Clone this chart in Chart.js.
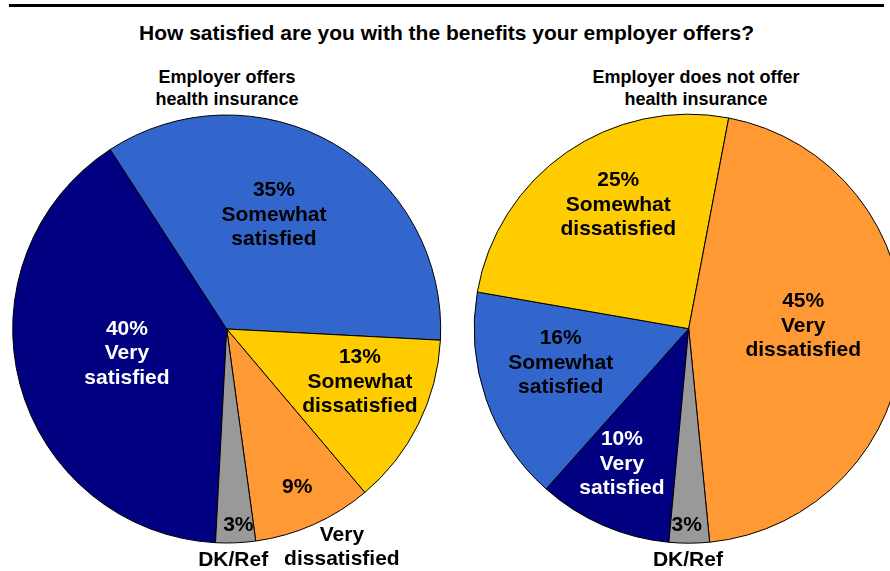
<!DOCTYPE html>
<html>
<head>
<meta charset="utf-8">
<script src="https://cdn.jsdelivr.net/npm/chart.js@4/dist/chart.umd.min.js"></script>
<style>
  body { margin: 0; width: 890px; height: 571px; overflow: hidden; background: #fff; position: relative; font-family: "Liberation Sans", Arial, sans-serif; }
  .rule { position: absolute; left: 9px; top: 4px; width: 875px; height: 3px; background: #000; }
  .title { position: absolute; top: 21px; left: 0; width: 893px; text-align: center; font-weight: bold; font-size: 21px; line-height: 24px; }
  .sub { position: absolute; top: 66px; width: 300px; text-align: center; font-weight: bold; font-size: 18px; line-height: 22px; }
  canvas { position: absolute; top: 0; }
</style>
</head>
<body>
<div class="rule"></div>
<div class="title">How satisfied are you with the benefits your employer offers?</div>
<div class="sub" style="left:77px">Employer offers<br>health insurance</div>
<div class="sub" style="left:546px">Employer does not offer<br>health insurance</div>
<canvas id="left" width="460" height="571" style="left:0"></canvas>
<canvas id="right" width="460" height="571" style="left:460px"></canvas>
<script>
// categories in pie order (clockwise)
const categories = ['Very satisfied', 'Somewhat satisfied', 'Somewhat dissatisfied', 'Very dissatisfied', 'DK/Ref'];
const offersInsurance = [40, 35, 13, 9, 3];
const noInsurance = [10, 16, 25, 45, 3];
const colors = ['#000080', '#3366CC', '#FFCC00', '#FF9933', '#999999'];
const textColors = ['#fff', '#000', '#000', '#000', '#000'];

// label placement: [radius fraction, angle shift in degrees] relative to slice middle
const leftInside = [[0.48, 1.2], [0.577, -7.5], [0.67, -4.7], [0.81, 0], [0.917, -1.0]];
const leftOutside = [null, null, null, [1.154, -3.8], [1.08, 0.8]];
const rightInside = [[0.703, 2.8], [0.618, 4.2], [0.664, 5.05], [0.534, -3.95], [0.917, 0.75]];
const rightOutside = [null, null, null, null, [1.08, 0.35]];

function splitName(name) {
  if (name === 'DK/Ref') return [name];
  return name.split(' ');
}

const sliceLabels = {
  id: 'sliceLabels',
  afterDatasetsDraw(chart, args, opts) {
    const ctx = chart.ctx;
    const arcs = chart.getDatasetMeta(0).data;
    const values = chart.data.datasets[0].data;
    ctx.save();
    ctx.font = 'bold 21px "Liberation Sans", Arial, sans-serif';
    ctx.textAlign = 'center';
    ctx.textBaseline = 'middle';
    const lineH = 24.5;
    arcs.forEach((arc, i) => {
      const p = arc.getProps(['x', 'y', 'startAngle', 'endAngle', 'outerRadius'], true);
      const mid = (p.startAngle + p.endAngle) / 2;
      const place = (spec, lines, color) => {
        const a = mid + spec[1] * Math.PI / 180;
        const r = spec[0] * p.outerRadius;
        const cx = p.x + Math.cos(a) * r;
        const cy = p.y + Math.sin(a) * r;
        ctx.fillStyle = color;
        lines.forEach((t, k) => {
          ctx.fillText(t, cx, cy + (k - (lines.length - 1) / 2) * lineH);
        });
      };
      const names = splitName(categories[i]);
      const pct = values[i] + '%';
      if (opts.outside[i]) {
        place(opts.inside[i], [pct], textColors[i]);
        place(opts.outside[i], names, '#000');
      } else {
        place(opts.inside[i], [pct].concat(names), textColors[i]);
      }
    });
    ctx.restore();
  }
};

function makePie(id, values, rotation, padding, radius, inside, outside) {
  return new Chart(document.getElementById(id), {
    type: 'pie',
    data: {
      labels: categories,
      datasets: [{
        data: values,
        backgroundColor: colors,
        borderColor: '#000',
        borderWidth: 1,
        hoverOffset: 0
      }]
    },
    options: {
      responsive: false,
      animation: false,
      rotation: rotation,
      radius: radius,
      layout: { padding: padding },
      plugins: {
        legend: { display: false },
        tooltip: { enabled: false },
        sliceLabels: { inside: inside, outside: outside }
      }
    },
    plugins: [sliceLabels]
  });
}

makePie('left', offersInsurance, 183, { left: 6.7, right: 13.3, top: 109, bottom: 22 }, 214, leftInside, leftOutside);
makePie('right', noInsurance, 185.3, { left: 8.7, right: 11.3, top: 108.7, bottom: 22.3 }, 214.5, rightInside, rightOutside);
</script>
</body>
</html>
